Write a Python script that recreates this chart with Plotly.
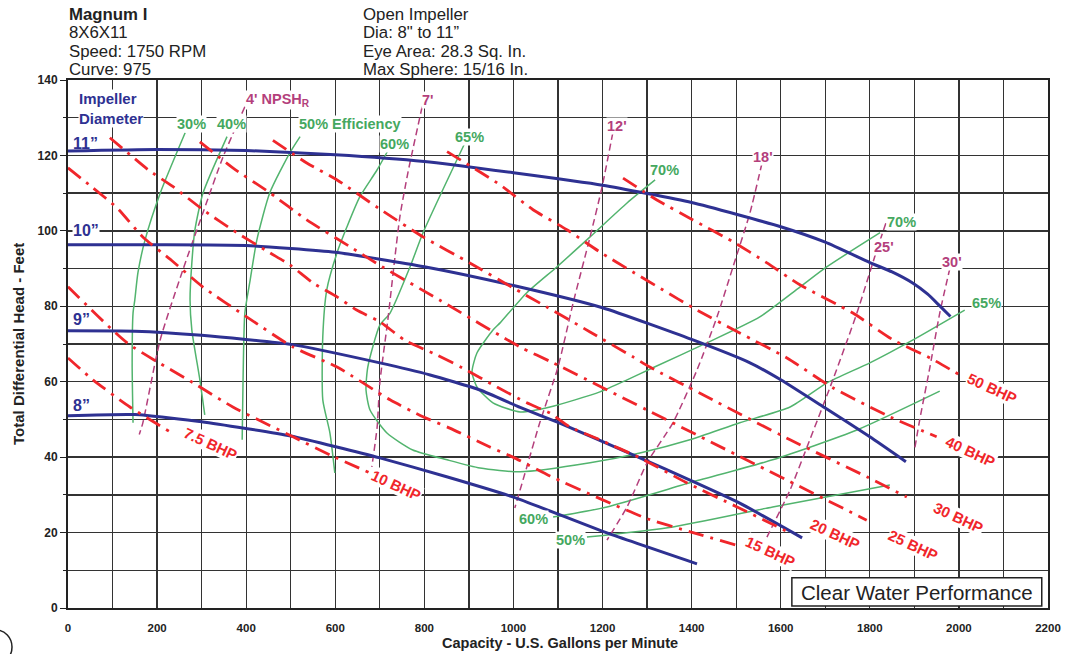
import plotly.graph_objects as go

# ---------------- DATA ----------------
# Impeller diameter curves (gpm, ft)
imp11_x = [0, 200, 400, 600, 800, 1000, 1200, 1400, 1600, 1700, 1800, 1850, 1897, 1930, 1957, 1981]
imp11_y = [121.2, 121.6, 121.3, 120.2, 118.4, 115.4, 112.1, 107.5, 101.1, 97.0, 91.6, 89.1, 86.1, 83.2, 80.1, 77.3]
imp10_x = [0, 200, 400, 600, 800, 1000, 1200, 1400, 1531, 1600, 1700, 1800, 1881]
imp10_y = [96.3, 96.3, 96.1, 94.3, 90.5, 85.5, 79.6, 71.2, 65.0, 60.5, 53.0, 45.4, 38.8]
imp9_x = [0, 150, 300, 500, 700, 813, 925, 1015, 1100, 1284, 1400, 1508, 1648]
imp9_y = [73.5, 73.4, 72.3, 69.9, 65.0, 61.8, 57.8, 53.2, 49.2, 39.8, 33.7, 27.8, 18.6]
imp8_x = [0, 150, 300, 500, 700, 850, 1000, 1210, 1412]
imp8_y = [51.0, 51.3, 49.4, 45.6, 39.8, 34.8, 29.4, 19.9, 11.7]
imp_labels = ['11”', '10”', '9”', '8”']
imp_label_y = [123.2, 100.1, 76.4, 53.8]

# Brake horsepower lines
bhp7_x = [0, 56, 139, 229]
bhp7_y = [66.3, 60.5, 53.3, 46.7]
bhp10_x = [0, 133, 281, 370, 505, 588, 678]
bhp10_y = [85.2, 70.3, 59.7, 53.3, 45.4, 40.6, 35.8]
bhp15_x = [0, 56, 110, 168, 236, 303, 401, 505, 604, 723, 797, 857, 947, 999, 1082, 1194, 1300, 1397, 1508]
bhp15_y = [116.7, 111.4, 106.1, 98.4, 91.8, 85.1, 77.2, 69.2, 63.9, 55.2, 50.7, 47.7, 42.7, 40.0, 35.0, 29.0, 23.7, 20.2, 16.4]
bhp20_x = [94, 139, 180, 236, 303, 379, 453, 498, 550, 604, 648, 700, 756, 828, 885, 963, 1030, 1082, 1127, 1194, 1284, 1389, 1502, 1621]
bhp20_y = [124.7, 120.2, 116.2, 111.7, 105.6, 99.5, 94.2, 91.0, 86.2, 82.5, 79.0, 75.9, 71.0, 67.1, 63.7, 58.6, 54.4, 51.7, 48.0, 44.6, 39.8, 33.2, 26.8, 19.9]
bhp25_x = [296, 370, 453, 536, 633, 705, 835, 1015, 1089, 1300, 1793]
bhp25_y = [123.6, 116.7, 110.1, 102.9, 95.8, 90.5, 81.6, 69.2, 65.0, 52.5, 23.3]
bhp30_x = [460, 536, 604, 696, 797, 902, 999, 1075, 1172, 1268, 1306, 1434, 1621, 1793, 1883]
bhp30_y = [124.0, 118.0, 113.5, 106.1, 98.4, 91.5, 84.9, 79.8, 73.2, 66.6, 63.9, 56.0, 44.6, 34.8, 29.4]
bhp40_x = [851, 970, 1044, 1120, 1194, 1268, 1336, 1403, 1508, 1614, 1717, 1845, 1950]
bhp40_y = [121.0, 112.2, 105.6, 100.3, 94.4, 89.1, 84.3, 79.6, 72.9, 66.3, 58.4, 50.7, 45.4]
bhp50_x = [1246, 1322, 1403, 1493, 1569, 1643, 1762, 1852, 1935, 2009]
bhp50_y = [114.0, 108.2, 102.9, 97.1, 91.5, 85.7, 78.2, 71.1, 66.3, 61.3]
bhp_labels = ['7.5 BHP', '10 BHP', '15 BHP', '20 BHP', '25 BHP', '30 BHP', '40 BHP', '50 BHP']
bhp_label_x = [319, 738, 1576, 1724, 1899, 1998, 2025, 2076]
bhp_label_y = [43.5, 32.6, 14.9, 19.6, 16.7, 23.9, 41.4, 58.3]

# Efficiency curves
eff30_x = [263, 207, 173, 157, 150, 146, 144, 146]
eff30_y = [126.0, 110.0, 97.6, 88.9, 81.7, 78.2, 65.0, 49.1]
eff40_x = [357, 303, 285, 278, 274, 278, 296, 307]
eff40_y = [125.0, 110.0, 100.3, 91.5, 81.7, 73.7, 60.5, 51.2]
eff50_x = [521, 498, 453, 424, 409, 397, 393, 391]
eff50_y = [125.0, 120.7, 110.1, 97.6, 87.0, 78.2, 60.5, 44.6]
eff50b_x = [1165, 1358, 1582, 1845]
eff50b_y = [18.8, 21.5, 26.8, 32.6]
eff60_x = [723, 694, 655, 626, 604, 581, 572, 572, 588, 599]
eff60_y = [122.3, 116.2, 109.0, 101.0, 94.2, 84.4, 72.0, 55.2, 46.4, 35.8]
eff60b_x = [1089, 1210, 1396, 1582, 1771, 1957]
eff60b_y = [24.1, 26.8, 33.2, 39.3, 47.2, 57.5]
eff65_x = [891, 797, 768, 723, 700, 673, 669, 678, 716, 774, 851, 925, 1015, 1172, 1284, 1396, 1508, 1621, 1704, 1800, 1897, 2013]
eff65_y = [123.3, 99.5, 90.5, 78.2, 75.0, 63.9, 57.8, 52.5, 46.4, 41.9, 39.3, 37.1, 36.1, 38.5, 41.1, 44.6, 49.1, 53.3, 59.7, 65.0, 71.1, 79.0]
eff70_x = [1318, 1255, 1172, 1098, 1030, 970, 954, 918, 907, 918, 954, 1015, 1082, 1194, 1255, 1313, 1434, 1553, 1643, 1704, 1823]
eff70_y = [113.5, 107.4, 98.4, 90.5, 83.6, 75.6, 73.7, 67.6, 62.6, 58.6, 54.4, 52.0, 53.3, 57.3, 60.5, 63.7, 70.3, 77.2, 85.1, 90.5, 99.5]
eff_labels = ['30%', '40%', '50% Efficiency', '60%', '65%', '70%', '70%', '65%', '60%', '50%']
eff_label_x = [278, 368, 633, 732, 902, 1338, 1872, 2063, 1046, 1127]
eff_label_y = [128.3, 128.3, 128.3, 123.0, 124.9, 116.1, 102.4, 80.9, 23.6, 18.0]

# NPSH required
npsh4_x = [397, 348, 303, 258, 207, 168, 160]
npsh4_y = [132.9, 119.6, 104.8, 89.7, 71.1, 49.1, 46.0]
npsh7_x = [795, 763, 745, 734, 718, 700, 694, 682]
npsh7_y = [132.9, 115.4, 103.7, 93.1, 76.4, 59.7, 48.0, 37.4]
npsh12_x = [1223, 1199, 1172, 1134, 1100, 1059, 1030, 1003]
npsh12_y = [126.0, 111.7, 98.4, 80.9, 63.9, 49.1, 37.4, 26.5]
npsh18_x = [1558, 1531, 1493, 1457, 1412, 1358, 1300, 1255, 1210]
npsh18_y = [118.0, 104.8, 90.5, 77.2, 63.1, 49.1, 38.5, 26.8, 18.0]
npsh25_x = [1836, 1816, 1771, 1717, 1659, 1621, 1569]
npsh25_y = [102.0, 95.0, 78.2, 60.5, 42.7, 31.3, 18.8]
npsh30_x = [1980, 1957, 1935, 1912, 1901]
npsh30_y = [90.2, 78.2, 63.9, 49.9, 42.4]
npsh_labels = ["4' NPSH<sub>R</sub>", "7'", "12'", "18'", "25'", "30'"]
npsh_label_x = [397, 808, 1232, 1560, 1832, 1984]
npsh_label_y = [134.7, 134.7, 127.8, 119.6, 95.7, 91.8]

header_left = ["<b>Magnum I</b>", "8X6X11", "Speed: 1750 RPM", "Curve: 975"]
header_right = ["Open Impeller", "Dia: 8\" to 11”", "Eye Area: 28.3 Sq. In.", "Max Sphere: 15/16 In."]

# ---------------- STYLE ----------------
BLUE = "#2e3192"
RED = "#f0262b"
GREEN = "#52b46e"
GREEN_TXT = "#45a85f"
MAG = "#b43f7c"
FONT = "Liberation Sans, Arial, sans-serif"
NARROW = "Liberation Sans Narrow, Arial Narrow, " + FONT

fig = go.Figure()

def add_line(x, y, color, width, dash=None, smooth=0.6):
    fig.add_trace(go.Scatter(x=x, y=y, mode="lines",
                             line=dict(color=color, width=width, dash=dash, shape="spline", smoothing=smooth),
                             hoverinfo="skip", showlegend=False))

for x, y in [(eff30_x, eff30_y), (eff40_x, eff40_y), (eff50_x, eff50_y), (eff50b_x, eff50b_y),
             (eff60_x, eff60_y), (eff60b_x, eff60b_y), (eff65_x, eff65_y), (eff70_x, eff70_y)]:
    add_line(x, y, GREEN, 1.5)

for x, y in [(npsh4_x, npsh4_y), (npsh7_x, npsh7_y), (npsh12_x, npsh12_y), (npsh18_x, npsh18_y),
             (npsh25_x, npsh25_y), (npsh30_x, npsh30_y)]:
    add_line(x, y, MAG, 1.5, "7px,4px")

for x, y in [(imp11_x, imp11_y), (imp10_x, imp10_y), (imp9_x, imp9_y), (imp8_x, imp8_y)]:
    add_line(x, y, BLUE, 3, smooth=0.5)

for x, y in [(bhp7_x, bhp7_y), (bhp10_x, bhp10_y), (bhp15_x, bhp15_y), (bhp20_x, bhp20_y),
             (bhp25_x, bhp25_y), (bhp30_x, bhp30_y), (bhp40_x, bhp40_y), (bhp50_x, bhp50_y)]:
    add_line(x, y, RED, 2.8, "16px,7px,3px,7px")

W, H = 1065, 654
ML, MR, MT, MB = 68, 17, 80, 46
PH = H - MT - MB  # plot height in px

def py_paper(py):
    # py measured in screen pixels from the top
    return (H - MB - py) / PH

def px_paper(px):
    return (px - ML) / (W - ML - MR)

ann = []
for t, yy in zip(imp_labels, imp_label_y):
    bg = "white" if t.startswith("10") else "rgba(0,0,0,0)"
    ann.append(dict(x=8, y=yy, text="<b>" + t + "</b>", showarrow=False, xanchor="left", yanchor="middle",
                    font=dict(color=BLUE, size=16, family=FONT), bgcolor=bg, borderpad=0))
ann.append(dict(x=22, y=137.6, text="<b>Impeller<br>Diameter</b>", showarrow=False, xanchor="left", yanchor="top",
                align="left", font=dict(color=BLUE, size=15, family=FONT), bgcolor="white", borderpad=0))
for t, xx, yy in zip(eff_labels, eff_label_x, eff_label_y):
    ann.append(dict(x=xx, y=yy, text="<b>" + t + "</b>", showarrow=False, xanchor="center", yanchor="middle",
                    font=dict(color=GREEN_TXT, size=14.5, family=FONT), bgcolor="white", borderpad=0))
for t, xx, yy in zip(npsh_labels, npsh_label_x, npsh_label_y):
    xa = "left" if "NPSH" in t else "center"
    ann.append(dict(x=xx, y=yy, text="<b>" + t + "</b>", showarrow=False, xanchor=xa, yanchor="middle",
                    font=dict(color=MAG, size=14.5, family=FONT), bgcolor="white", borderpad=0))
for t, xx, yy in zip(bhp_labels, bhp_label_x, bhp_label_y):
    ann.append(dict(x=xx, y=yy, text="<b>" + t + "</b>", showarrow=False, xanchor="center", yanchor="middle",
                    textangle=25, font=dict(color=RED, size=15, family=FONT), bgcolor="white", borderpad=0))

header_py = [14.5, 32.5, 51, 70]
for t, py in zip(header_left, header_py):
    ann.append(dict(x=0, y=py_paper(py), xref="paper", yref="paper", text=t, showarrow=False, borderpad=0,
                    xanchor="left", yanchor="middle", font=dict(size=16.8, color="#222", family=FONT)))
for t, py in zip(header_right, header_py):
    ann.append(dict(x=0.3, y=py_paper(py), xref="paper", yref="paper", text=t, showarrow=False, borderpad=0,
                    xanchor="left", yanchor="middle", font=dict(size=16.8, color="#222", family=FONT)))

ann.append(dict(x=px_paper(18), y=0.5, xref="paper", yref="paper", text="<b>Total Differential Head - Feet</b>",
                textangle=-90, showarrow=False, xanchor="center", yanchor="middle",
                font=dict(size=15, color="#222", family=FONT)))
ann.append(dict(x=px_paper(560), y=py_paper(643), xref="paper", yref="paper",
                text="<b>Capacity - U.S. Gallons per Minute</b>", borderpad=0,
                showarrow=False, xanchor="center", yanchor="middle", font=dict(size=14.5, color="#222", family=NARROW)))
ann.append(dict(x=1905, y=4.2, text="Clear Water Performance", showarrow=False, xanchor="center", yanchor="middle",
                font=dict(size=20.5, color="#222", family=FONT)))

shapes = [dict(type="rect", x0=1625, x1=2186, y0=0.5, y1=8.0, line=dict(color="#222", width=1.5),
               fillcolor="white", layer="above"),
          dict(type="circle", xref="paper", yref="paper", x0=px_paper(-20), x1=px_paper(12),
               y0=py_paper(664), y1=py_paper(630), line=dict(color="#222", width=1.5))]

fig.update_layout(
    width=W, height=H,
    margin=dict(l=ML, r=MR, t=MT, b=MB, autoexpand=False),
    paper_bgcolor="white", plot_bgcolor="white",
    annotations=ann, shapes=shapes,
    font=dict(family=FONT, color="#222"),
    hovermode=False,
    xaxis=dict(range=[0, 2200], tickvals=list(range(0, 2201, 200)), showgrid=True, gridcolor="#333", gridwidth=1.3,
               minor=dict(dtick=100, showgrid=True, gridcolor="#333", gridwidth=1.3),
               showline=True, linecolor="#222", linewidth=2, mirror=True, zeroline=False,
               ticks="", ticklabelstandoff=8, automargin=False, ticklabeloverflow="allow",
               tickfont=dict(size=11.5, weight="bold", family=NARROW, color="#222")),
    yaxis=dict(range=[0, 140], tickvals=list(range(0, 141, 20)), showgrid=True, gridcolor="#333", gridwidth=1.3,
               minor=dict(dtick=10, showgrid=True, gridcolor="#333", gridwidth=1.3, ticks="outside", ticklen=3,
                          tickcolor="#222"),
               showline=True, linecolor="#222", linewidth=2, mirror=True, zeroline=False,
               ticks="outside", ticklen=6, tickcolor="#222", automargin=False, ticklabeloverflow="allow",
               tickfont=dict(size=12, weight="bold", color="#222", family=FONT)),
)

# remove the browser's default 8px page margin so the figure fills the window exactly
fig.write_html("out.html", config={"displayModeBar": False, "staticPlot": True},
               post_script="document.body.style.margin='0';document.body.style.overflow='hidden';")
